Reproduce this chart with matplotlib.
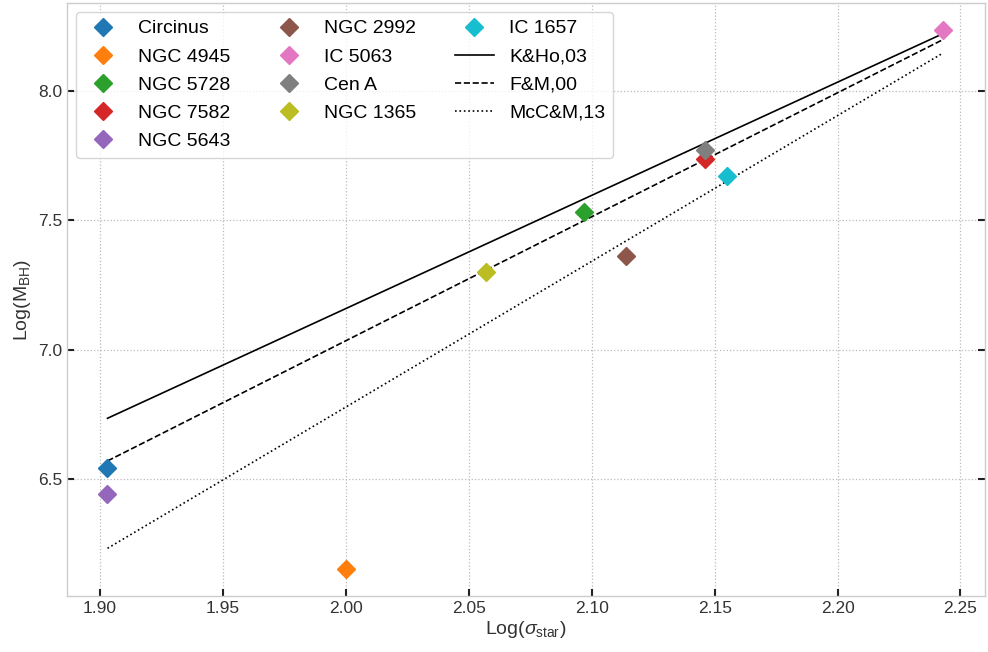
import matplotlib.pyplot as plt

plt.rcParams['font.family'] = ['Liberation Sans', 'DejaVu Sans']
plt.rcParams['mathtext.fontset'] = 'custom'
plt.rcParams['mathtext.rm'] = 'Liberation Sans'
plt.rcParams['mathtext.it'] = 'Liberation Sans:italic'

# galaxies: log(sigma_star), log(M_BH)
names = ['Circinus', 'NGC 4945', 'NGC 5728', 'NGC 7582', 'NGC 5643',
         'NGC 2992', 'IC 5063', 'Cen A', 'NGC 1365', 'IC 1657']
log_sigma = [1.903, 2.000, 2.097, 2.146, 1.903, 2.114, 2.243, 2.146, 2.057, 2.155]
log_mbh = [6.544, 6.151, 7.531, 7.736, 6.441, 7.362, 8.236, 7.772, 7.300, 7.671]
colors = ['tab:blue', 'tab:orange', 'tab:green', 'tab:red', 'tab:purple',
          'tab:brown', 'tab:pink', 'tab:gray', 'tab:olive', 'tab:cyan']

# M-sigma relations, end points over the sample range
rel_names = ['K&Ho,03', 'F&M,00', 'McC&M,13']
rel_x = [1.903, 2.243]
rel_y = [[6.735, 8.223], [6.570, 8.200], [6.232, 8.148]]
rel_styles = ['-', '--', ':']

fig, ax = plt.subplots(figsize=(9.88, 6.52), dpi=100)
fig.subplots_adjust(left=0.068, right=0.997, bottom=0.086, top=0.995)

for name, xs, ys, c in zip(names, log_sigma, log_mbh, colors):
    ax.plot(xs, ys, marker='D', ms=9.5, ls='none', color=c, label=name, zorder=3)

for name, ys, st in zip(rel_names, rel_y, rel_styles):
    ax.plot(rel_x, ys, ls=st, color='black', lw=1.2, label=name, zorder=2)

ax.set_xlim(1.8866, 2.260)
ax.set_ylim(6.048, 8.34)
ax.set_xticks([1.90, 1.95, 2.00, 2.05, 2.10, 2.15, 2.20, 2.25])
ax.set_yticks([6.5, 7.0, 7.5, 8.0])
ax.grid(True, ls=':', color='#bbbbbb', lw=0.9)
ax.set_axisbelow(True)
for s in ax.spines.values():
    s.set_color('#cccccc')
    s.set_linewidth(1.0)
ax.tick_params(direction='in', length=5, width=1.5, color='#222222',
               left=True, right=True, bottom=True, top=False,
               labelsize=12.5, labelcolor='#333333')

ax.set_xlabel(r'Log($\sigma_{\rm star}$)', fontsize=14, color='#333333', labelpad=2)
ax.set_ylabel(r'Log(M$_{\rm BH}$)', fontsize=14, color='#333333', labelpad=4)

leg = ax.legend(loc='upper left', ncol=3, fontsize=14, frameon=True,
                borderaxespad=0.45, columnspacing=2.0, handletextpad=0.8,
                labelspacing=0.54)
leg.get_frame().set_edgecolor('#cccccc')

fig.savefig('out.png', dpi=100)
